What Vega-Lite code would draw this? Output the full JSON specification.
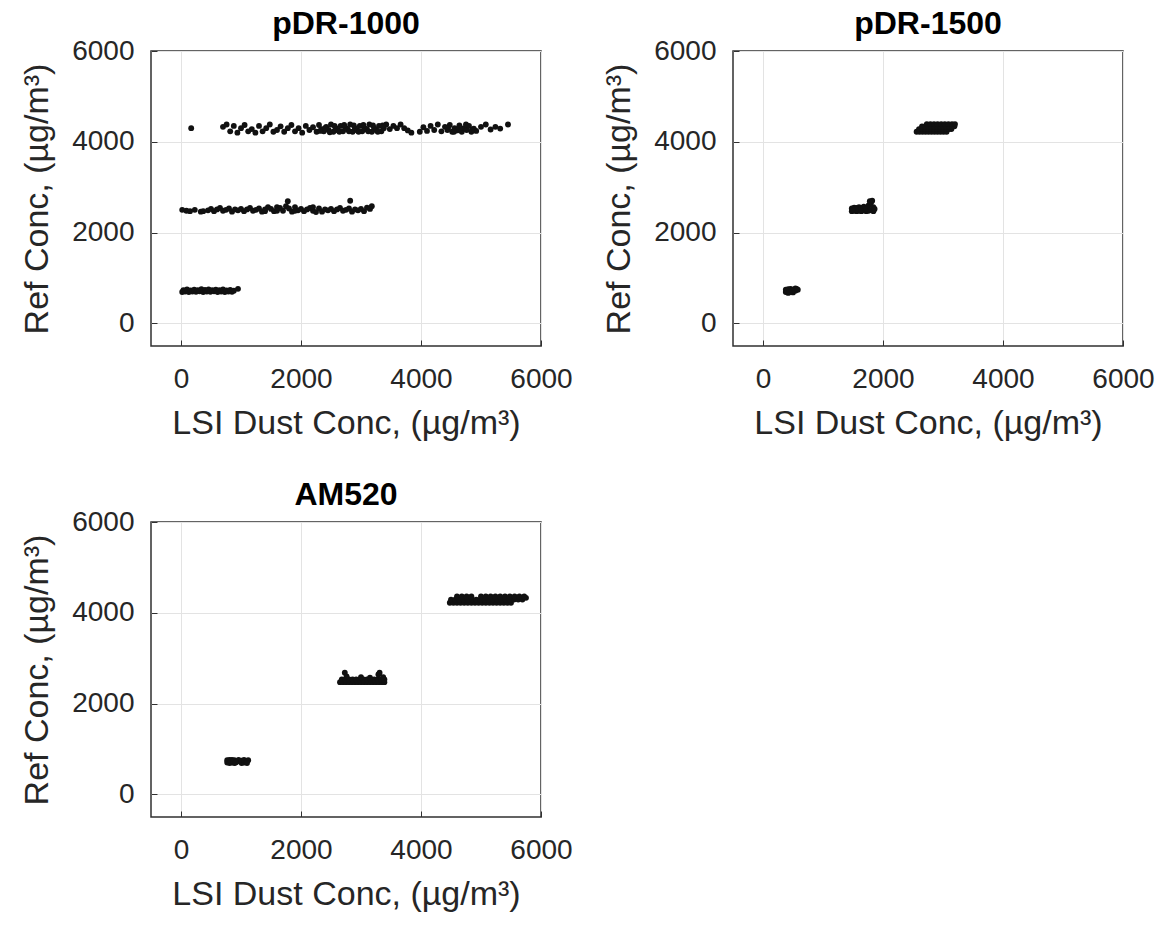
{
  "$schema": "https://vega.github.io/schema/vega-lite/v6.json",
  "background": "white",
  "padding": {"left": 19, "top": 7, "right": 5, "bottom": 5},
  "config": {
    "font": "Liberation Sans",
    "view": {"stroke": "#303030", "strokeWidth": 1.5},
    "axis": {
      "domain": false,
      "grid": true,
      "gridColor": "#e3e3e3",
      "gridWidth": 1,
      "ticks": true,
      "tickSize": -6,
      "tickColor": "#303030",
      "tickWidth": 1,
      "format": "d",
      "labelFlush": false,
      "labelOverlap": false,
      "labelFont": "Liberation Sans",
      "labelFontSize": 28,
      "labelColor": "#262626",
      "titleFont": "Liberation Sans",
      "titleFontSize": 34,
      "titleFontWeight": "normal",
      "titleColor": "#262626"
    },
    "axisX": {"labelPadding": 25, "titlePadding": 13},
    "axisY": {"labelPadding": 23, "titlePadding": 17},
    "title": {"font": "Liberation Sans", "fontSize": 32, "fontWeight": "bold", "color": "#000000", "offset": -4}
  },
  "datasets": {
    "pdr1000": [
      {"lsi":20,"ref":690},{"lsi":40,"ref":730},{"lsi":70,"ref":700},{"lsi":100,"ref":745},{"lsi":130,"ref":690},{"lsi":160,"ref":725},{"lsi":190,"ref":700},{"lsi":220,"ref":740},{"lsi":250,"ref":695},{"lsi":280,"ref":730},{"lsi":310,"ref":705},{"lsi":340,"ref":750},{"lsi":370,"ref":690},{"lsi":400,"ref":735},{"lsi":430,"ref":700},{"lsi":460,"ref":745},{"lsi":490,"ref":695},{"lsi":520,"ref":730},{"lsi":550,"ref":705},{"lsi":580,"ref":740},{"lsi":610,"ref":690},{"lsi":640,"ref":730},{"lsi":670,"ref":700},{"lsi":700,"ref":745},{"lsi":730,"ref":690},{"lsi":760,"ref":725},{"lsi":790,"ref":700},{"lsi":820,"ref":735},{"lsi":850,"ref":695},{"lsi":880,"ref":720},{"lsi":950,"ref":760},
      {"lsi":20,"ref":2500},{"lsi":90,"ref":2480},{"lsi":150,"ref":2470},{"lsi":230,"ref":2500},{"lsi":330,"ref":2460},{"lsi":370,"ref":2470},
      {"lsi":450,"ref":2490},{"lsi":500,"ref":2520},{"lsi":550,"ref":2470},{"lsi":600,"ref":2510},{"lsi":650,"ref":2540},{"lsi":700,"ref":2480},{"lsi":750,"ref":2500},{"lsi":800,"ref":2530},{"lsi":850,"ref":2460},{"lsi":900,"ref":2510},
      {"lsi":950,"ref":2490},{"lsi":1000,"ref":2520},{"lsi":1050,"ref":2470},{"lsi":1100,"ref":2510},{"lsi":1150,"ref":2540},{"lsi":1200,"ref":2480},{"lsi":1250,"ref":2500},{"lsi":1300,"ref":2530},{"lsi":1350,"ref":2460},{"lsi":1400,"ref":2510},
      {"lsi":1450,"ref":2560},{"lsi":1500,"ref":2520},{"lsi":1550,"ref":2470},{"lsi":1600,"ref":2560},{"lsi":1650,"ref":2540},{"lsi":1700,"ref":2480},{"lsi":1750,"ref":2580},{"lsi":1800,"ref":2530},{"lsi":1850,"ref":2460},{"lsi":1900,"ref":2560},
      {"lsi":1950,"ref":2490},{"lsi":2000,"ref":2520},{"lsi":2050,"ref":2470},{"lsi":2100,"ref":2510},{"lsi":2150,"ref":2540},{"lsi":2200,"ref":2480},{"lsi":2250,"ref":2450},{"lsi":2300,"ref":2530},{"lsi":2350,"ref":2460},{"lsi":2400,"ref":2510},
      {"lsi":2450,"ref":2490},{"lsi":2500,"ref":2520},{"lsi":2550,"ref":2470},{"lsi":2600,"ref":2510},{"lsi":2650,"ref":2540},{"lsi":2700,"ref":2480},{"lsi":2750,"ref":2500},{"lsi":2800,"ref":2530},{"lsi":2850,"ref":2460},{"lsi":2900,"ref":2510},
      {"lsi":2950,"ref":2490},{"lsi":3000,"ref":2520},{"lsi":3050,"ref":2470},{"lsi":3100,"ref":2550},{"lsi":3150,"ref":2520},{"lsi":3180,"ref":2580},
      {"lsi":1780,"ref":2690},{"lsi":2820,"ref":2700},{"lsi":1400,"ref":2470},{"lsi":1600,"ref":2480},{"lsi":2200,"ref":2560},{"lsi":1900,"ref":2480},
      {"lsi":170,"ref":4300},
      {"lsi":700,"ref":4330},{"lsi":760,"ref":4380},{"lsi":820,"ref":4230},{"lsi":880,"ref":4350},{"lsi":940,"ref":4200},{"lsi":1000,"ref":4300},{"lsi":1060,"ref":4370},{"lsi":1120,"ref":4230},{"lsi":1180,"ref":4280},{"lsi":1240,"ref":4200},
      {"lsi":1300,"ref":4350},{"lsi":1360,"ref":4230},{"lsi":1420,"ref":4300},{"lsi":1480,"ref":4380},{"lsi":1540,"ref":4220},{"lsi":1600,"ref":4260},{"lsi":1660,"ref":4340},{"lsi":1720,"ref":4220},{"lsi":1780,"ref":4300},{"lsi":1840,"ref":4370},
      {"lsi":1900,"ref":4230},{"lsi":1960,"ref":4300},{"lsi":2020,"ref":4200},{"lsi":2080,"ref":4350},{"lsi":2140,"ref":4260},{"lsi":2200,"ref":4320},{"lsi":2260,"ref":4220},{"lsi":2300,"ref":4370},{"lsi":2340,"ref":4280},{"lsi":2380,"ref":4230},
      {"lsi":2420,"ref":4330},{"lsi":2460,"ref":4260},{"lsi":2500,"ref":4380},{"lsi":2540,"ref":4220},{"lsi":2580,"ref":4300},{"lsi":2620,"ref":4250},{"lsi":2660,"ref":4350},{"lsi":2700,"ref":4230},{"lsi":2740,"ref":4310},{"lsi":2780,"ref":4270},
      {"lsi":2820,"ref":4380},{"lsi":2860,"ref":4220},{"lsi":2900,"ref":4300},{"lsi":2940,"ref":4250},{"lsi":2980,"ref":4350},{"lsi":3020,"ref":4230},{"lsi":3060,"ref":4300},{"lsi":3100,"ref":4270},{"lsi":3140,"ref":4380},{"lsi":3180,"ref":4220},
      {"lsi":3220,"ref":4300},{"lsi":3260,"ref":4250},{"lsi":3300,"ref":4350},{"lsi":3340,"ref":4230},{"lsi":3380,"ref":4300},{"lsi":3420,"ref":4380},{"lsi":3480,"ref":4280},{"lsi":3540,"ref":4350},{"lsi":3600,"ref":4300},{"lsi":3660,"ref":4380},
      {"lsi":3720,"ref":4300},{"lsi":3780,"ref":4250},{"lsi":3840,"ref":4200},
      {"lsi":2320,"ref":4240},{"lsi":2400,"ref":4300},{"lsi":2480,"ref":4210},{"lsi":2560,"ref":4350},{"lsi":2640,"ref":4220},{"lsi":2720,"ref":4370},{"lsi":2800,"ref":4230},{"lsi":2880,"ref":4360},{"lsi":2960,"ref":4220},{"lsi":3040,"ref":4370},
      {"lsi":3120,"ref":4230},{"lsi":3200,"ref":4360},{"lsi":3280,"ref":4220},{"lsi":3360,"ref":4360},
      {"lsi":3980,"ref":4220},{"lsi":4040,"ref":4320},{"lsi":4100,"ref":4240},{"lsi":4160,"ref":4350},{"lsi":4220,"ref":4260},{"lsi":4280,"ref":4380},{"lsi":4340,"ref":4230},{"lsi":4400,"ref":4330},{"lsi":4440,"ref":4260},{"lsi":4480,"ref":4370},
      {"lsi":4520,"ref":4220},{"lsi":4560,"ref":4300},{"lsi":4600,"ref":4250},{"lsi":4640,"ref":4360},{"lsi":4680,"ref":4220},{"lsi":4720,"ref":4300},{"lsi":4760,"ref":4260},{"lsi":4800,"ref":4350},{"lsi":4840,"ref":4220},{"lsi":4880,"ref":4290},
      {"lsi":4920,"ref":4240},{"lsi":5000,"ref":4330},{"lsi":5080,"ref":4380},{"lsi":5160,"ref":4270},{"lsi":5240,"ref":4330},{"lsi":5320,"ref":4290},{"lsi":5450,"ref":4380},
      {"lsi":4450,"ref":4300},{"lsi":4550,"ref":4220},{"lsi":4650,"ref":4300},{"lsi":4750,"ref":4380},{"lsi":4850,"ref":4260}
    ],
    "pdr1500": [
      {"lsi":380,"ref":690},{"lsi":380,"ref":740},{"lsi":420,"ref":670},{"lsi":420,"ref":750},{"lsi":460,"ref":700},{"lsi":460,"ref":760},{"lsi":500,"ref":680},{"lsi":500,"ref":740},{"lsi":540,"ref":720},{"lsi":540,"ref":770},{"lsi":580,"ref":740},{"lsi":560,"ref":760},{"lsi":400,"ref":720},{"lsi":480,"ref":720},{"lsi":440,"ref":690},
      {"lsi":1480,"ref":2470},{"lsi":1480,"ref":2530},{"lsi":1520,"ref":2480},{"lsi":1520,"ref":2550},{"lsi":1560,"ref":2470},{"lsi":1560,"ref":2540},{"lsi":1600,"ref":2480},{"lsi":1600,"ref":2560},{"lsi":1640,"ref":2470},{"lsi":1640,"ref":2540},
      {"lsi":1680,"ref":2490},{"lsi":1680,"ref":2570},{"lsi":1720,"ref":2470},{"lsi":1720,"ref":2540},{"lsi":1760,"ref":2480},{"lsi":1760,"ref":2600},{"lsi":1800,"ref":2500},{"lsi":1800,"ref":2660},{"lsi":1840,"ref":2470},{"lsi":1840,"ref":2560},
      {"lsi":1860,"ref":2520},{"lsi":1780,"ref":2690},{"lsi":1820,"ref":2700},{"lsi":1700,"ref":2520},{"lsi":1620,"ref":2510},{"lsi":1540,"ref":2510},{"lsi":1500,"ref":2500},
      {"lsi":2560,"ref":4220},{"lsi":2610,"ref":4220},{"lsi":2660,"ref":4220},{"lsi":2710,"ref":4220},{"lsi":2760,"ref":4220},{"lsi":2810,"ref":4220},{"lsi":2860,"ref":4220},{"lsi":2910,"ref":4220},{"lsi":2960,"ref":4220},{"lsi":3010,"ref":4220},{"lsi":3060,"ref":4220},
      {"lsi":2600,"ref":4280},{"lsi":2650,"ref":4280},{"lsi":2700,"ref":4280},{"lsi":2750,"ref":4280},{"lsi":2800,"ref":4280},{"lsi":2850,"ref":4280},{"lsi":2900,"ref":4280},{"lsi":2950,"ref":4280},{"lsi":3000,"ref":4280},{"lsi":3050,"ref":4280},{"lsi":3100,"ref":4280},{"lsi":3140,"ref":4280},
      {"lsi":2650,"ref":4340},{"lsi":2700,"ref":4340},{"lsi":2750,"ref":4340},{"lsi":2800,"ref":4340},{"lsi":2850,"ref":4340},{"lsi":2900,"ref":4340},{"lsi":2950,"ref":4340},{"lsi":3000,"ref":4340},{"lsi":3050,"ref":4340},{"lsi":3100,"ref":4340},{"lsi":3150,"ref":4340},{"lsi":3190,"ref":4340},
      {"lsi":2730,"ref":4390},{"lsi":2790,"ref":4390},{"lsi":2850,"ref":4390},{"lsi":2910,"ref":4390},{"lsi":2970,"ref":4390},{"lsi":3030,"ref":4390},{"lsi":3090,"ref":4390},{"lsi":3150,"ref":4390},{"lsi":3200,"ref":4390}
    ],
    "am520": [
      {"lsi":770,"ref":700},{"lsi":770,"ref":750},{"lsi":810,"ref":690},{"lsi":810,"ref":760},{"lsi":850,"ref":700},{"lsi":850,"ref":760},{"lsi":890,"ref":690},{"lsi":890,"ref":750},{"lsi":930,"ref":720},{"lsi":960,"ref":760},
      {"lsi":1010,"ref":690},{"lsi":1010,"ref":740},{"lsi":1050,"ref":700},{"lsi":1050,"ref":760},{"lsi":1090,"ref":720},{"lsi":1120,"ref":750},{"lsi":1100,"ref":690},{"lsi":830,"ref":730},{"lsi":870,"ref":730},{"lsi":910,"ref":700},
      {"lsi":2650,"ref":2470},{"lsi":2700,"ref":2470},{"lsi":2750,"ref":2470},{"lsi":2800,"ref":2470},{"lsi":2850,"ref":2470},{"lsi":2900,"ref":2470},{"lsi":2950,"ref":2470},{"lsi":3000,"ref":2470},{"lsi":3050,"ref":2470},{"lsi":3100,"ref":2470},{"lsi":3150,"ref":2470},{"lsi":3200,"ref":2470},{"lsi":3250,"ref":2470},{"lsi":3300,"ref":2470},{"lsi":3350,"ref":2470},{"lsi":3390,"ref":2470},
      {"lsi":2680,"ref":2530},{"lsi":2740,"ref":2530},{"lsi":2800,"ref":2530},{"lsi":2860,"ref":2530},{"lsi":2920,"ref":2530},{"lsi":2980,"ref":2530},{"lsi":3040,"ref":2530},{"lsi":3100,"ref":2530},{"lsi":3160,"ref":2530},{"lsi":3220,"ref":2530},{"lsi":3280,"ref":2530},{"lsi":3340,"ref":2530},{"lsi":3390,"ref":2530},
      {"lsi":2730,"ref":2680},{"lsi":2760,"ref":2600},{"lsi":3000,"ref":2580},{"lsi":3290,"ref":2640},{"lsi":3310,"ref":2680},{"lsi":3370,"ref":2580},{"lsi":3150,"ref":2570},
      {"lsi":4480,"ref":4220},{"lsi":4540,"ref":4220},{"lsi":4600,"ref":4220},{"lsi":4660,"ref":4220},{"lsi":4720,"ref":4220},{"lsi":4780,"ref":4220},{"lsi":4840,"ref":4220},{"lsi":4900,"ref":4220},{"lsi":4960,"ref":4220},{"lsi":5020,"ref":4220},{"lsi":5080,"ref":4220},{"lsi":5140,"ref":4220},{"lsi":5200,"ref":4220},{"lsi":5260,"ref":4220},{"lsi":5320,"ref":4220},{"lsi":5380,"ref":4220},{"lsi":5440,"ref":4220},{"lsi":5500,"ref":4220},
      {"lsi":4500,"ref":4290},{"lsi":4570,"ref":4290},{"lsi":4640,"ref":4290},{"lsi":4710,"ref":4290},{"lsi":4780,"ref":4290},{"lsi":4850,"ref":4290},{"lsi":4920,"ref":4290},{"lsi":4990,"ref":4290},{"lsi":5060,"ref":4290},{"lsi":5130,"ref":4290},{"lsi":5200,"ref":4290},{"lsi":5270,"ref":4290},{"lsi":5340,"ref":4290},{"lsi":5410,"ref":4290},{"lsi":5480,"ref":4290},{"lsi":5550,"ref":4290},{"lsi":5620,"ref":4290},{"lsi":5690,"ref":4290},{"lsi":5750,"ref":4330},
      {"lsi":4600,"ref":4360},{"lsi":4680,"ref":4360},{"lsi":4760,"ref":4360},{"lsi":4840,"ref":4360},{"lsi":5000,"ref":4360},{"lsi":5080,"ref":4360},{"lsi":5160,"ref":4360},{"lsi":5240,"ref":4360},{"lsi":5320,"ref":4360},{"lsi":5400,"ref":4360},{"lsi":5480,"ref":4360},{"lsi":5560,"ref":4360},{"lsi":5640,"ref":4360},{"lsi":5720,"ref":4360}
    ]
  },
  "columns": 2,
  "bounds": "flush",
  "spacing": {"row": 176, "column": 192},
  "concat": [
    {
      "title": "pDR-1000",
      "width": 390, "height": 295,
      "data": {"name": "pdr1000"},
      "mark": {"type": "point", "filled": true, "size": 34, "color": "#111111", "opacity": 1},
      "encoding": {
        "x": {"field": "lsi", "type": "quantitative", "title": "LSI Dust Conc, (µg/m³)", "scale": {"domain": [-500, 6000], "nice": false, "zero": false}, "axis": {"values": [0, 2000, 4000, 6000]}},
        "y": {"field": "ref", "type": "quantitative", "title": "Ref Conc, (µg/m³)", "scale": {"domain": [-500, 6000], "nice": false, "zero": false}, "axis": {"values": [0, 2000, 4000, 6000]}}
      }
    },
    {
      "title": "pDR-1500",
      "width": 390, "height": 295,
      "data": {"name": "pdr1500"},
      "mark": {"type": "point", "filled": true, "size": 34, "color": "#111111", "opacity": 1},
      "encoding": {
        "x": {"field": "lsi", "type": "quantitative", "title": "LSI Dust Conc, (µg/m³)", "scale": {"domain": [-500, 6000], "nice": false, "zero": false}, "axis": {"values": [0, 2000, 4000, 6000]}},
        "y": {"field": "ref", "type": "quantitative", "title": "Ref Conc, (µg/m³)", "scale": {"domain": [-500, 6000], "nice": false, "zero": false}, "axis": {"values": [0, 2000, 4000, 6000]}}
      }
    },
    {
      "title": "AM520",
      "width": 390, "height": 295,
      "data": {"name": "am520"},
      "mark": {"type": "point", "filled": true, "size": 34, "color": "#111111", "opacity": 1},
      "encoding": {
        "x": {"field": "lsi", "type": "quantitative", "title": "LSI Dust Conc, (µg/m³)", "scale": {"domain": [-500, 6000], "nice": false, "zero": false}, "axis": {"values": [0, 2000, 4000, 6000]}},
        "y": {"field": "ref", "type": "quantitative", "title": "Ref Conc, (µg/m³)", "scale": {"domain": [-500, 6000], "nice": false, "zero": false}, "axis": {"values": [0, 2000, 4000, 6000]}}
      }
    }
  ]
}
